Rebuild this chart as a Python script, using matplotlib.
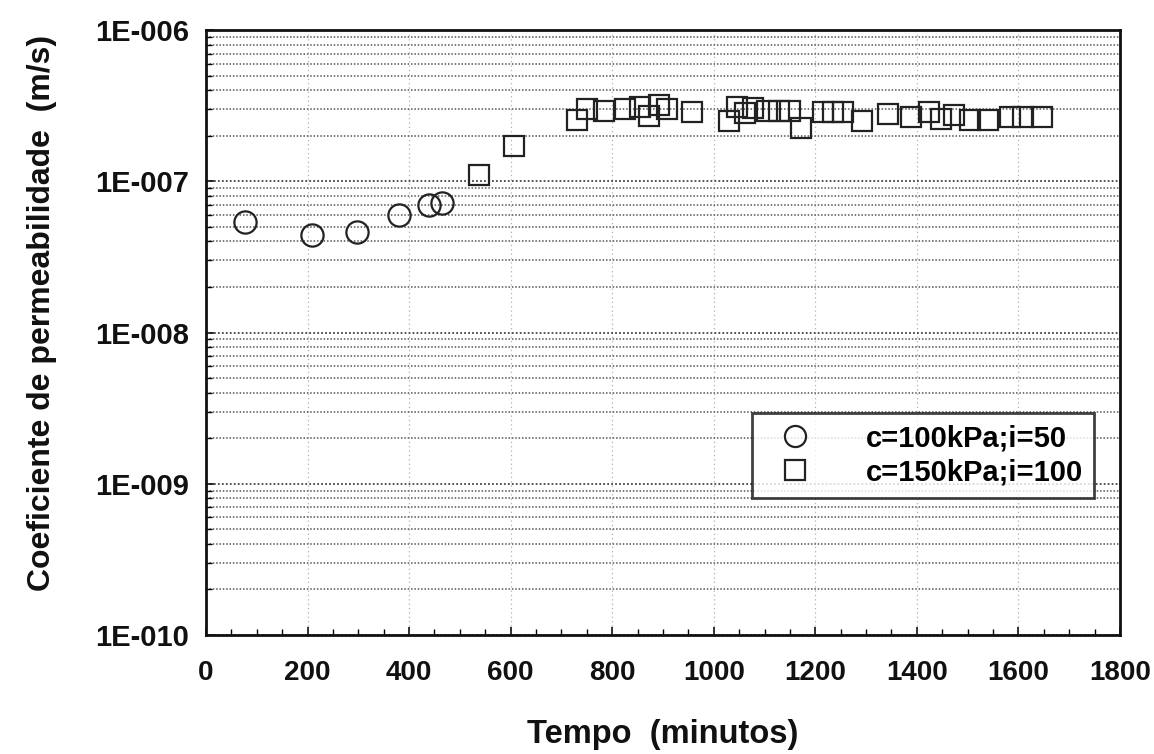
import matplotlib
matplotlib.use("Agg")
import matplotlib.pyplot as plt
from matplotlib.ticker import FixedLocator, FuncFormatter, LogLocator, MultipleLocator
import numpy as np

# Data
series_labels = ["c=100kPa;i=50", "c=150kPa;i=100"]
circle_x = [77, 209, 298, 380, 439, 465]
circle_y = [5.37e-8, 4.42e-8, 4.61e-8, 5.97e-8, 6.95e-8, 7.16e-8]
square_x = [538, 607, 731, 751, 784, 826, 855, 873, 893, 908, 958, 1031, 1046,
            1062, 1078, 1105, 1129, 1151, 1172, 1216, 1235, 1255, 1291, 1344,
            1389, 1423, 1448, 1474, 1505, 1541, 1584, 1610, 1647]
square_y = [1.10e-7, 1.70e-7, 2.56e-7, 3.02e-7, 2.93e-7, 3.02e-7, 3.11e-7,
            2.72e-7, 3.21e-7, 3.02e-7, 2.89e-7, 2.52e-7, 3.11e-7, 2.85e-7,
            3.07e-7, 2.93e-7, 2.93e-7, 2.93e-7, 2.26e-7, 2.89e-7, 2.89e-7,
            2.89e-7, 2.52e-7, 2.80e-7, 2.68e-7, 2.89e-7, 2.60e-7, 2.76e-7,
            2.56e-7, 2.56e-7, 2.68e-7, 2.68e-7, 2.68e-7]
x_ticks = [0, 200, 400, 600, 800, 1000, 1200, 1400, 1600, 1800]
y_ticks = [1e-10, 1e-9, 1e-8, 1e-7, 1e-6]
x_label = "Tempo  (minutos)"
y_label = "Coeficiente de permeabilidade  (m/s)"

plt.rcParams['font.family'] = ['Liberation Sans', 'DejaVu Sans']

fig = plt.figure(figsize=(11.54, 7.54), dpi=100)
ax = fig.add_axes([0.1785, 0.158, 0.792, 0.802])

ax.set_yscale('log')
ax.set_xlim(0, 1800)
ax.set_ylim(1e-10, 1e-6)

# grid
ax.yaxis.set_major_locator(FixedLocator(y_ticks))
ax.yaxis.set_minor_locator(LogLocator(base=10, subs=np.arange(2, 10)))
ax.xaxis.set_major_locator(FixedLocator(x_ticks))
ax.xaxis.set_minor_locator(MultipleLocator(50))
ax.grid(True, which='major', axis='y', color='#444444', linestyle=(0, (1, 1.2)), linewidth=1.3)
ax.grid(True, which='minor', axis='y', color='#555555', linestyle=(0, (1, 1.2)), linewidth=1.1)
ax.grid(True, which='major', axis='x', color='#b0b0b0', linestyle=(0, (1, 2.5)), linewidth=0.9)

ax.plot(circle_x, circle_y, linestyle='none', marker='o', markersize=16,
        markerfacecolor='none', markeredgecolor='#222222', markeredgewidth=1.6,
        label=series_labels[0], zorder=3)
ax.plot(square_x, square_y, linestyle='none', marker='s', markersize=15,
        markerfacecolor='none', markeredgecolor='#222222', markeredgewidth=1.6,
        label=series_labels[1], zorder=3)

def fmt(v, pos):
    e = int(round(np.log10(v)))
    return "1E-%03d" % abs(e)

ax.yaxis.set_major_formatter(FuncFormatter(fmt))

ax.tick_params(axis='both', which='major', direction='in', length=6,
               width=1.2, colors='#111111')
ax.tick_params(axis='y', which='major', labelsize=21, pad=12)
ax.tick_params(axis='x', which='major', labelsize=20, pad=18)
ax.tick_params(axis='both', which='minor', direction='in', length=4, width=1.0)
for lab in ax.get_xticklabels() + ax.get_yticklabels():
    lab.set_fontweight('bold')

for s in ax.spines.values():
    s.set_linewidth(2.0)
    s.set_color('#111111')

ax.set_xlabel(x_label, fontsize=23.5, fontweight='bold', labelpad=24, color='#111111')
ax.set_ylabel(y_label, fontsize=23, fontweight='bold', color='#111111')
ax.yaxis.set_label_coords(-0.163, 0.532)

leg = ax.legend(loc='upper left', bbox_to_anchor=(0.597, 0.367), fontsize=21,
                frameon=True, fancybox=False, edgecolor='#111111',
                borderpad=0.4, handletextpad=1.3, markerscale=0.95,
                borderaxespad=0, labelspacing=0.2, handlelength=2.2)
leg.get_frame().set_linewidth(2.0)
for t in leg.get_texts():
    t.set_fontweight('bold')
leg.set_zorder(5)

fig.savefig("out.png", dpi=100, facecolor='white')
